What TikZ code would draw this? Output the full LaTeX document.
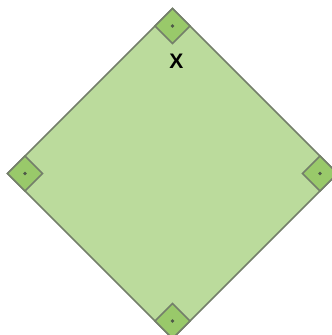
\documentclass[tikz,border=0pt]{standalone}
\usepackage{fontspec}
\setmainfont{Liberation Sans}
\usetikzlibrary{calc}
\definecolor{bigfill}{HTML}{BBDB9C}
\definecolor{markfill}{HTML}{99C96A}
\definecolor{edgegray}{HTML}{747F6A}
\definecolor{dotgray}{HTML}{4F5A48}
\tikzset{
  bigdia/.style={fill=bigfill, draw=edgegray, line width=1.5pt, line join=miter},
  markdia/.style={fill=markfill, draw=edgegray, line width=1.5pt},
  dotmark/.style={fill=dotgray, draw=none},
  lbl/.style={font=\bfseries\fontsize{21}{21}\selectfont, text=black, inner sep=0pt}
}
\begin{document}
\begin{tikzpicture}[x=1pt,y=1pt]
\useasboundingbox (0,0) rectangle (332,-335);
\coordinate (T) at (172.5,-8.5);
\coordinate (L) at (7.5,-173.5);
\coordinate (R) at (337.5,-173.5);
\coordinate (B) at (172.5,-338.5);
\draw[bigdia] (T) -- (R) -- (B) -- (L) -- cycle;
% markers
\draw[markdia] (T) -- ++(17.5,-17.5) -- ++(-17.5,-17.5) -- ++(-17.5,17.5) -- cycle;
\fill[dotmark] ($(T)+(0,-17.5)$) circle (1.9);
\draw[markdia] (L) -- ++(17.5,17.5) -- ++(17.5,-17.5) -- ++(-17.5,-17.5) -- cycle;
\fill[dotmark] ($(L)+(17.5,0)$) circle (1.9);
\draw[markdia] (R) -- ++(-17.5,17.5) -- ++(-17.5,-17.5) -- ++(17.5,-17.5) -- cycle;
\fill[dotmark] ($(R)+(-17.5,0)$) circle (1.9);
\draw[markdia] (B) -- ++(17.5,17.5) -- ++(-17.5,17.5) -- ++(-17.5,-17.5) -- cycle;
\fill[dotmark] ($(B)+(0,17.5)$) circle (1.9);
\node[lbl] (X) at (176.5,-61.5) {X};
\end{tikzpicture}
\end{document}
